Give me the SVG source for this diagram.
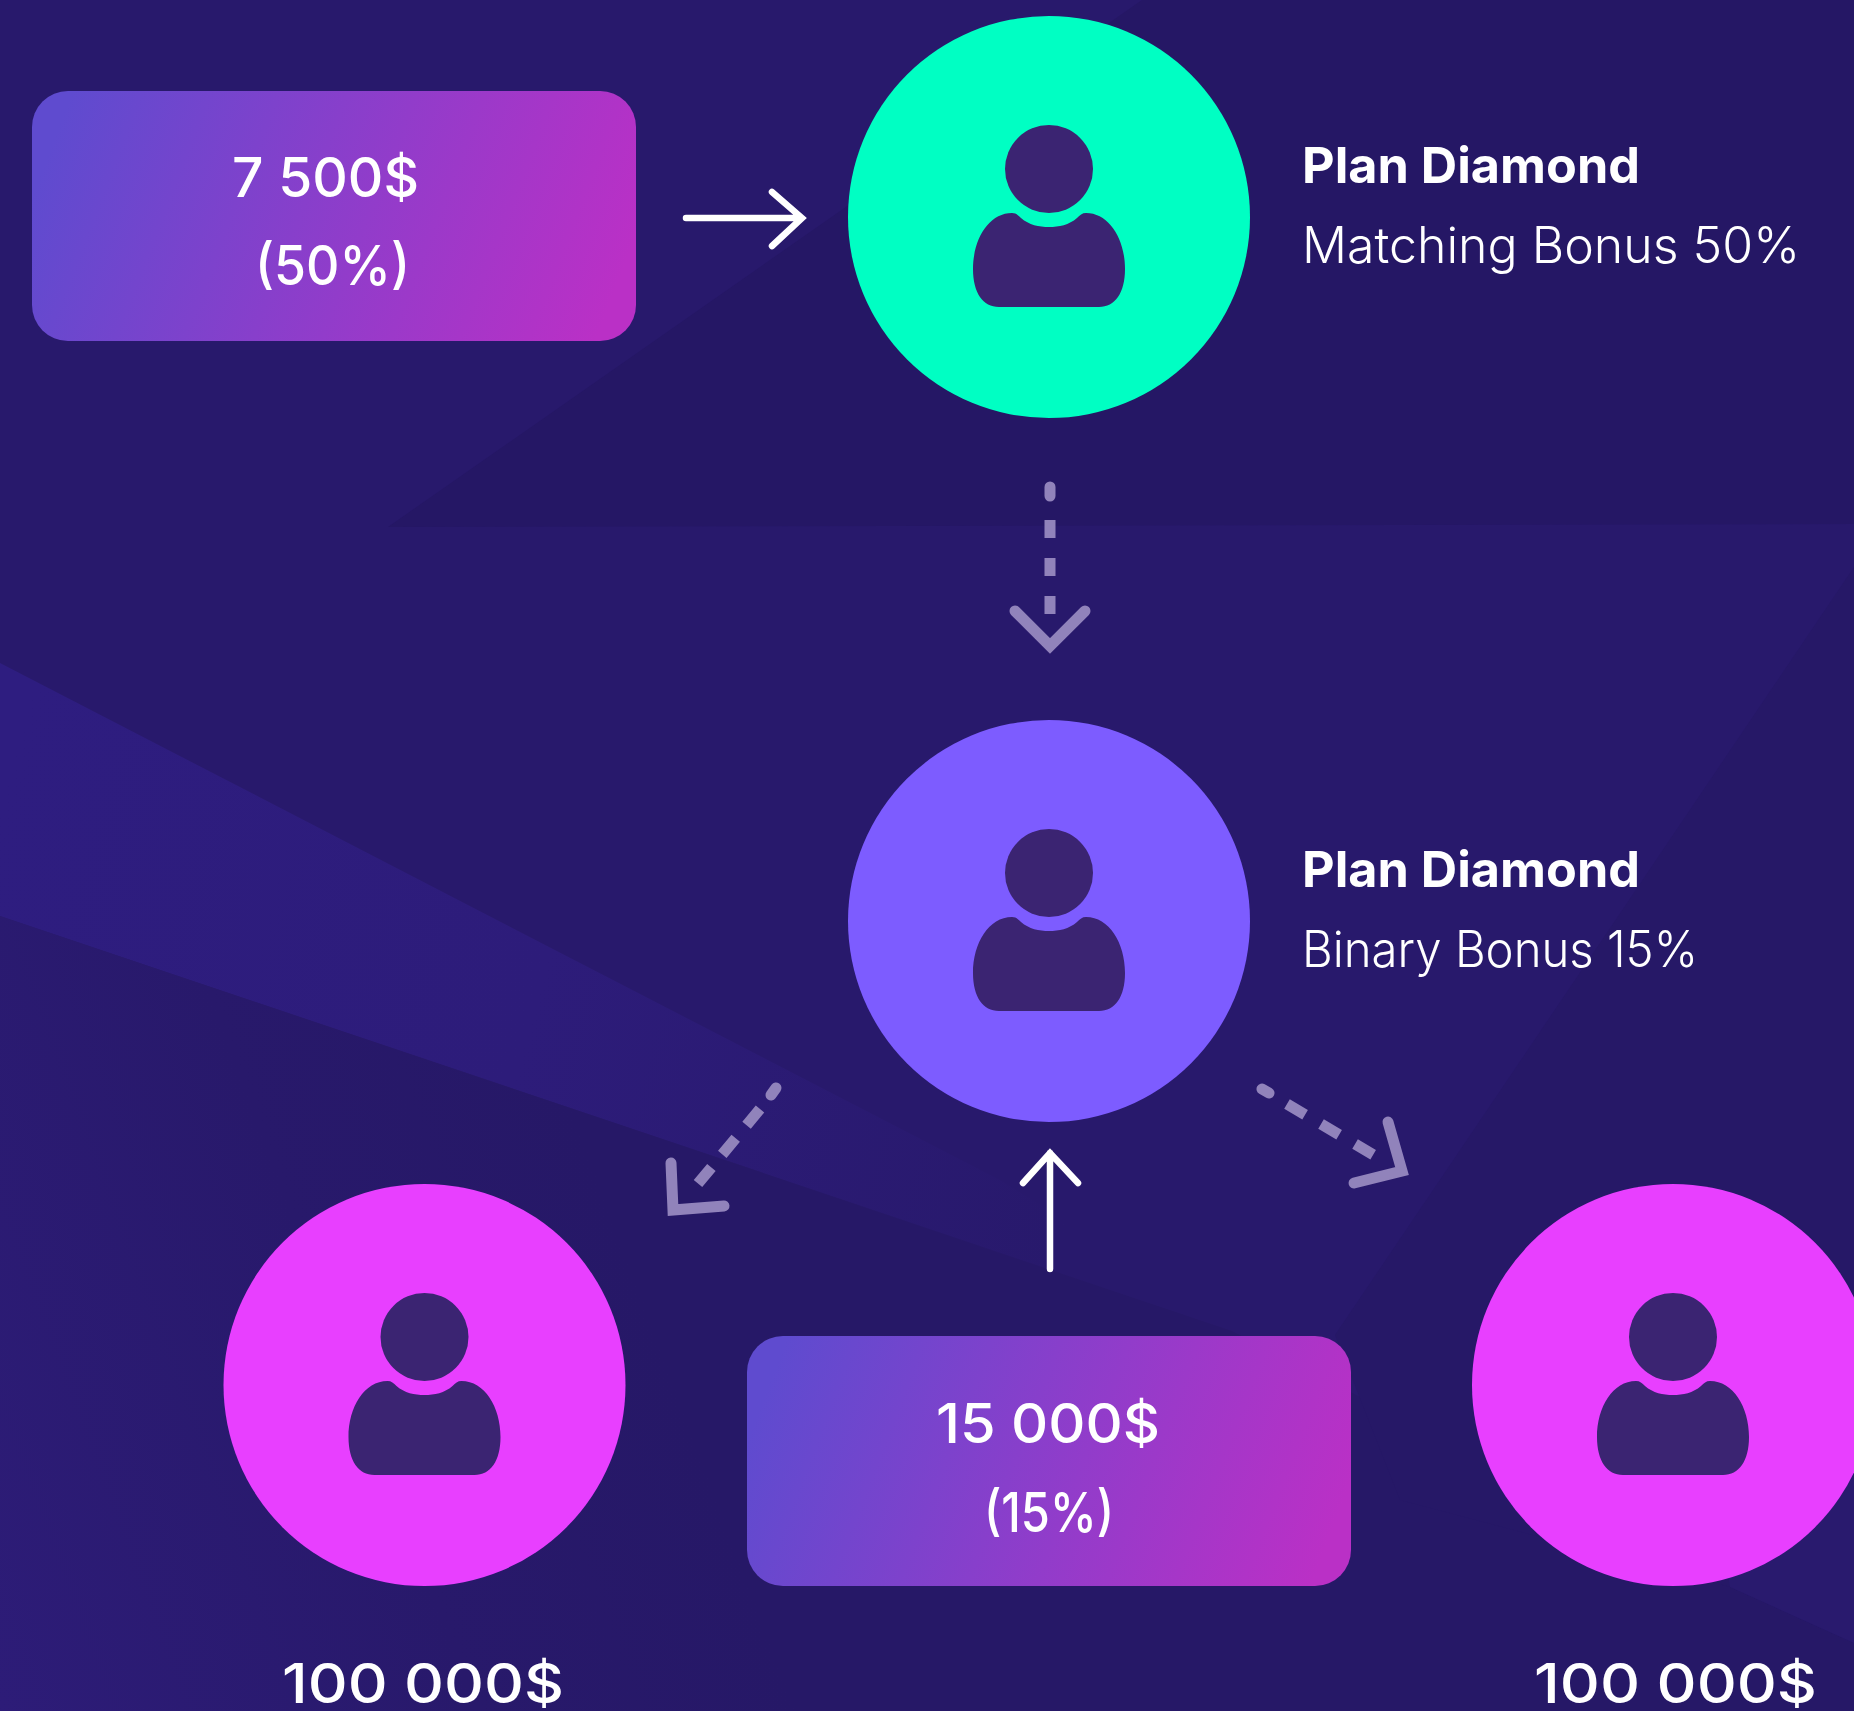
<svg xmlns="http://www.w3.org/2000/svg" width="1854" height="1711" viewBox="0 0 1854 1711">
<style>
.t{font-family:"Inter","Lato","Liberation Sans",sans-serif;fill:#fff}
.m{font-size:55px;font-weight:500}
.h{font-size:50px;font-weight:700}
.s{font-size:50px;font-weight:300}
.wa{fill:none;stroke:#fff;stroke-width:6.500;stroke-linecap:round;stroke-linejoin:miter}
.da{fill:none;stroke:#9183bb;stroke-width:11}
.dr{fill:none;stroke:#9183bb;stroke-width:11;stroke-linecap:round}
.dh{fill:none;stroke:#9183bb;stroke-width:11;stroke-linecap:round;stroke-linejoin:miter}
.p{fill:#3b2472}
</style>
<defs>
<linearGradient id="g" x1="0" y1="0.42" x2="1" y2="0.58"><stop offset="0" stop-color="#5f4bcf"/><stop offset="1" stop-color="#ba30c6"/></linearGradient>
<linearGradient id="b" gradientUnits="userSpaceOnUse" x1="0" y1="800" x2="1100" y2="1100"><stop offset="0" stop-color="#2e1d80"/><stop offset="0.5" stop-color="#2d1c7a"/><stop offset="1" stop-color="#28196c"/></linearGradient>
<linearGradient id="l" gradientUnits="userSpaceOnUse" x1="0" y1="1711" x2="700" y2="1450"><stop offset="0" stop-color="#2d1c78"/><stop offset="0.6" stop-color="#28196b"/><stop offset="1" stop-color="#261867"/></linearGradient>
<g id="person"><ellipse cx="0" cy="-48" rx="44" ry="44"/><path d="M-37 -4C-33 -4 -31 -2 -28 1C-20 8 -10 10 0 10C10 10 20 8 28 1C31 -2 33 -4 37 -4C60 -4 76 22 76 52C76 76 66 90 50 90L-50 90C-66 90 -76 76 -76 52C-76 22 -60 -4 -37 -4Z"/></g>
</defs>
<g id="background">
<rect width="1854" height="1711" fill="#28196c"/>
<path d="M388 527L1142 0L1854 0L1854 524Z" fill="#251765"/>
<path d="M0 663L1000 1180L1260 1340L0 916Z" fill="url(#b)"/>
<path d="M0 916L1232 1331L1730 1587L1854 1643L1854 1711L0 1711Z" fill="url(#l)"/>
<path d="M1854 567L1554 1011L1335 1335L1400 1500L1730 1587L1854 1643Z" fill="#261867"/>
<path d="M1730 1587L1854 1643L1854 1400L1700 1400Z" fill="#291a6e"/>
</g>
<g id="connectors">
<path class="wa" d="M686 218L801 218M772 192L802 218L772 246"/>
<path class="wa" d="M1050 1269L1050 1153M1023 1183L1050 1153L1078 1183"/>
<path class="dr" d="M1050 487V496"/>
<path class="da" d="M1050 520V615" stroke-dasharray="18 20"/>
<path class="dh" d="M1015 611L1050 646L1085 611"/>
<path class="dr" d="M776 1088L771 1095"/>
<path class="da" d="M760 1109L691 1192" stroke-dasharray="21 17"/>
<path class="dh" d="M671 1163L673 1210L724 1206"/>
<path class="dr" d="M1262 1089L1269 1093"/>
<path class="da" d="M1287 1104L1377 1157" stroke-dasharray="21 18.500"/>
<path class="dh" d="M1388 1122L1402 1171L1354 1183"/>
</g>
<g id="box-top"><rect x="32" y="91" width="604" height="250" rx="36" fill="url(#g)"/>
<text class="t m" x="232" y="197" textLength="187" lengthAdjust="spacingAndGlyphs">7 500$</text>
<text class="t m" x="255" y="285" textLength="155" lengthAdjust="spacingAndGlyphs">(50%)</text></g>
<g id="node-top"><circle cx="1049" cy="217" r="201" fill="#00ffc3"/><use href="#person" x="1049" y="217" class="p"/>
<text class="t h" x="1302" y="183" textLength="338" lengthAdjust="spacingAndGlyphs">Plan Diamond</text>
<text class="t s" x="1302" y="263" textLength="498" lengthAdjust="spacingAndGlyphs">Matching Bonus 50%</text></g>
<g id="node-mid"><circle cx="1049" cy="921" r="201" fill="#7d5cff"/><use href="#person" x="1049" y="921" class="p"/>
<text class="t h" x="1302" y="887" textLength="338" lengthAdjust="spacingAndGlyphs">Plan Diamond</text>
<text class="t s" x="1302" y="967" textLength="396" lengthAdjust="spacingAndGlyphs">Binary Bonus 15%</text></g>
<g id="box-bottom"><rect x="747" y="1336" width="604" height="250" rx="36" fill="url(#g)"/>
<text class="t m" x="936" y="1443" textLength="224" lengthAdjust="spacingAndGlyphs">15 000$</text>
<text class="t m" x="984" y="1532" textLength="130" lengthAdjust="spacingAndGlyphs">(15%)</text></g>
<g id="node-left"><circle cx="424.500" cy="1385" r="201" fill="#e83fff"/><use href="#person" x="424.500" y="1385" class="p"/>
<text class="t m" x="282" y="1703" textLength="282" lengthAdjust="spacingAndGlyphs">100 000$</text></g>
<g id="node-right"><circle cx="1673" cy="1385" r="201" fill="#e83fff"/><use href="#person" x="1673" y="1385" class="p"/>
<text class="t m" x="1534" y="1703" textLength="283" lengthAdjust="spacingAndGlyphs">100 000$</text></g>
</svg>
